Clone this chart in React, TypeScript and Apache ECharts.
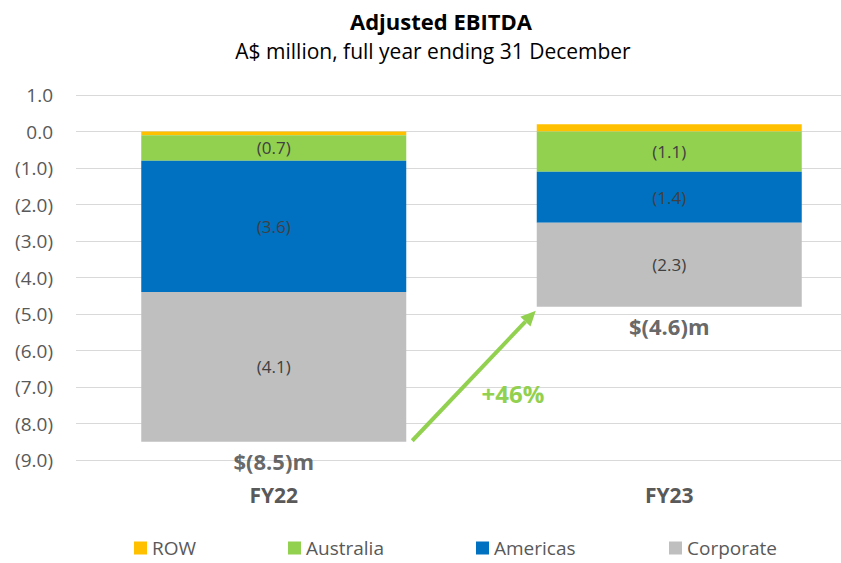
import React, { useEffect, useRef } from "react";
import * as echarts from "echarts";

const categories = ["FY22", "FY23"];
const seriesNames = ["ROW", "Australia", "Americas", "Corporate"];
const rowValues = [-0.1, 0.2];
const australiaValues = [-0.7, -1.1];
const americasValues = [-3.6, -1.4];
const corporateValues = [-4.1, -2.3];
const totalValues = [-8.5, -4.6];
const changeLabel = "+46%";
const titleText = "Adjusted EBITDA";
const subtitleText = "A$ million, full year ending 31 December";

const colors = {
  ROW: "#FFC000",
  Australia: "#92D050",
  Americas: "#0070C0",
  Corporate: "#BFBFBF",
};

const FONT = "'Open Sans', 'Noto Sans', sans-serif";

function fmt(v: number) {
  return v < 0 ? `(${Math.abs(v).toFixed(1)})` : v.toFixed(1);
}

export default function App() {
  const ref = useRef<HTMLDivElement>(null);
  useEffect(() => {
    if (!ref.current) return;
    const chart = echarts.init(ref.current, undefined, { renderer: "svg" });
    const all = [rowValues, australiaValues, americasValues, corporateValues];
    const negBottoms = categories.map((_, i) =>
      all.reduce((s, arr) => s + Math.min(arr[i], 0), 0)
    );
    const barW = 265;
    const mkBar = (name: string, data: number[], showLabel: boolean) => ({
      name,
      type: "bar",
      stack: "total",
      barWidth: barW,
      data,
      itemStyle: { color: (colors as any)[name] },
      label: {
        show: showLabel,
        position: "inside",
        formatter: (p: any) => fmt(p.value),
        color: "#404040",
        fontFamily: FONT,
        fontSize: 17,
      },
      emphasis: { disabled: true },
    });
    const legendLefts = [132, 286, 474, 667];
    chart.setOption({
      animation: false,
      title: [
        {
          text: titleText,
          left: 436,
          top: 5,
          textAlign: "center",
          textStyle: { fontFamily: FONT, fontSize: 22, fontWeight: "bold", color: "#000" },
        },
        {
          text: subtitleText,
          left: 428,
          top: 35,
          textAlign: "center",
          textStyle: { fontFamily: FONT, fontSize: 21, fontWeight: "normal", color: "#000" },
        },
      ],
      legend: seriesNames.map((n, i) => ({
        data: [n],
        left: legendLefts[i],
        top: 535,
        padding: 2,
        itemWidth: 13,
        itemHeight: 13,
        itemGap: 6,
        icon: "rect",
        selectedMode: false,
        textStyle: { fontFamily: FONT, fontSize: 19, color: "#595959", lineHeight: 22 },
      })),
      grid: { left: 76, top: 95, width: 791, height: 365, containLabel: false },
      xAxis: {
        type: "category",
        data: categories,
        axisLine: { show: false },
        axisTick: { show: false },
        axisLabel: {
          margin: 24,
          fontFamily: FONT,
          fontSize: 21,
          fontWeight: "bold",
          color: "#595959",
        },
      },
      yAxis: {
        type: "value",
        min: -9,
        max: 1,
        interval: 1,
        axisLine: { show: false },
        axisTick: { show: false },
        splitLine: { lineStyle: { color: "#D9D9D9", width: 1 } },
        axisLabel: {
          margin: 23,
          formatter: (v: number) => fmt(v),
          fontFamily: FONT,
          fontSize: 19,
          color: "#595959",
        },
      },
      series: [
        mkBar("ROW", rowValues, false),
        mkBar("Australia", australiaValues, true),
        mkBar("Americas", americasValues, true),
        mkBar("Corporate", corporateValues, true),
        {
          name: "Total",
          type: "scatter",
          symbolSize: 1,
          itemStyle: { color: "rgba(0,0,0,0)" },
          data: categories.map((c, i) => [c, negBottoms[i]]),
          label: {
            show: true,
            position: "bottom",
            distance: 8,
            formatter: (p: any) => `$${fmt(totalValues[p.dataIndex])}m`,
            color: "#404040",
            fontFamily: FONT,
            fontSize: 22,
            fontWeight: "bold",
          },
          emphasis: { disabled: true },
        },
      ],
    });

    const p0 = chart.convertToPixel({ seriesIndex: 0 }, [0, negBottoms[0]]) as number[];
    const p1 = chart.convertToPixel({ seriesIndex: 0 }, [1, negBottoms[1]]) as number[];
    const x1 = p0[0] + barW / 2 + 6;
    const y1 = p0[1] - 1;
    const x2 = p1[0] - barW / 2 - 1;
    const y2 = p1[1] + 4;
    const ang = Math.atan2(y2 - y1, x2 - x1);
    const headL = 15;
    const headW = 7;
    const bx = x2 - headL * Math.cos(ang);
    const by = y2 - headL * Math.sin(ang);
    const nx = -Math.sin(ang);
    const ny = Math.cos(ang);
    const mx = (x1 + x2) / 2;
    const my = (y1 + y2) / 2;
    chart.setOption({
      graphic: [
        {
          type: "line",
          shape: { x1, y1, x2: bx, y2: by },
          style: { stroke: "#92D050", lineWidth: 4 },
          silent: true,
        },
        {
          type: "polygon",
          shape: {
            points: [
              [x2, y2],
              [bx + nx * headW, by + ny * headW],
              [bx - nx * headW, by - ny * headW],
            ],
          },
          style: { fill: "#92D050" },
          silent: true,
        },
        {
          type: "text",
          x: mx + 39,
          y: my + 18,
          style: {
            text: changeLabel,
            fill: "#92D050",
            font: `bold 24px ${FONT}`,
            align: "center",
            verticalAlign: "middle",
          },
          silent: true,
        },
      ],
    });
    return () => chart.dispose();
  }, []);
  return (
    <div
      style={{
        position: "fixed",
        left: 0,
        top: 0,
        width: 841,
        height: 563,
        overflow: "hidden",
        background: "#fff",
      }}
    >
      <div ref={ref} style={{ width: 880, height: 563 }} />
    </div>
  );
}
